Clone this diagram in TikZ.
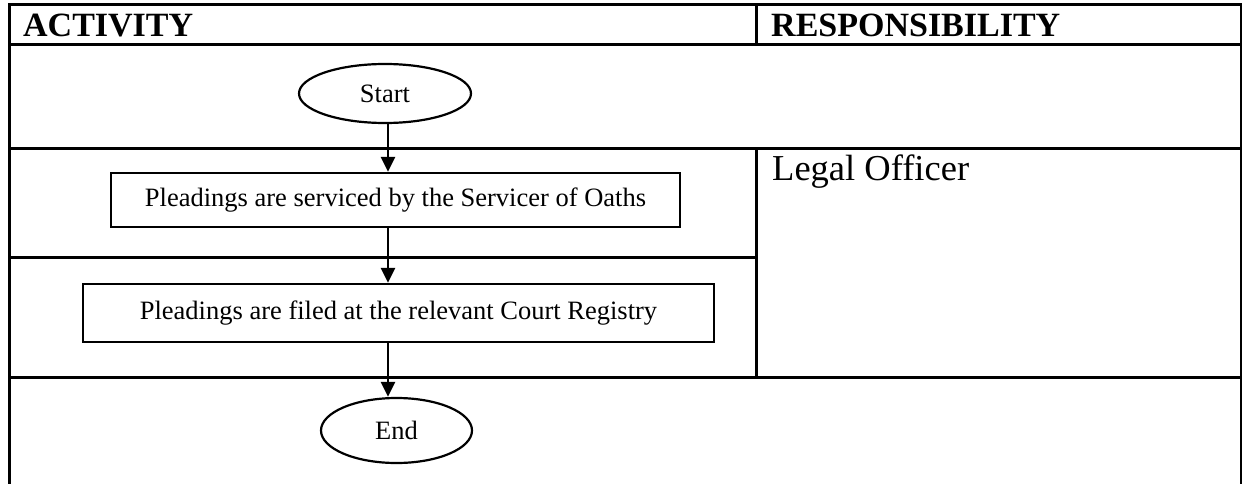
\documentclass[tikz,border=0pt]{standalone}
\usepackage{fontspec}
\setmainfont{Liberation Serif}
\usetikzlibrary{arrows.meta,shapes.geometric}
\tikzset{
  grid/.style={line width=3pt, line cap=rect},
  procbox/.style={draw, line width=2.2pt, rectangle, inner sep=0pt,
    font=\fontsize{26.5}{30}\selectfont},
  term/.style={draw, line width=2.2pt, ellipse, inner sep=0pt,
    font=\fontsize{26.5}{30}\selectfont},
  head/.style={anchor=base west, inner sep=0pt, font=\fontsize{34}{38}\selectfont\bfseries},
  resp/.style={anchor=base west, inner sep=0pt, font=\fontsize{36.5}{40}\selectfont},
  arr/.style={line width=2.8pt, -{Triangle[length=15pt,width=14pt]}}
}
\begin{document}
\begin{tikzpicture}[x=1pt,y=-1pt]
\useasboundingbox (0,0) rectangle (1242,484);
% table grid
\draw[grid] (9,490) -- (9,5) -- (1241,5) -- (1241,490);
\draw[grid] (9,45) -- (1241,45);
\draw[grid] (756,5) -- (756,45);
\draw[grid] (9,149) -- (1241,149);
\draw[grid] (756,149) -- (756,377);
\draw[grid] (9,257) -- (756,257);
\draw[grid] (9,377) -- (1241,377);
% headers
\node[head] (hact) at (23,37) {ACTIVITY};
\node[head] (hresp) at (771,37) {RESPONSIBILITY};
\node[resp] (legal) at (772,180) {Legal Officer};
% flow
\node[term, minimum width=172pt, minimum height=59pt] (start) at (385,93.5) {Start};
\node[procbox, minimum width=569pt, minimum height=54pt] (b1) at (395.5,200) {Pleadings are serviced by the Servicer of Oaths};
\node[procbox, minimum width=631pt, minimum height=58pt] (b2) at (398.5,313) {Pleadings are filed at the relevant Court Registry};
\node[term, minimum width=151pt, minimum height=65pt] (end) at (396.5,430.5) {End};
\coordinate (ax) at (388,0);
\draw[arr] (start.south -| ax) -- (b1.north -| ax);
\draw[arr] (b1.south -| ax) -- (b2.north -| ax);
\draw[arr] (b2.south -| ax) -- (end.north -| ax);
\end{tikzpicture}
\end{document}
